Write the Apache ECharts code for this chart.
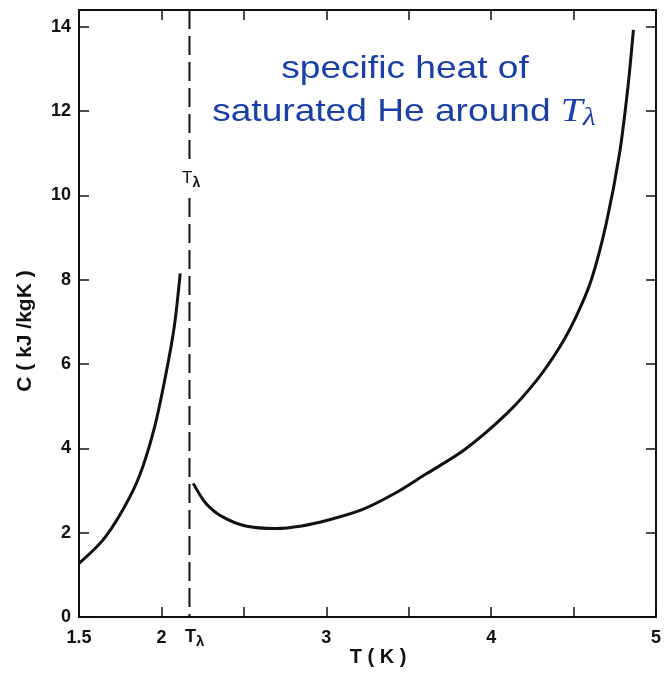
<!DOCTYPE html>
<html>
<head>
<meta charset="utf-8">
<script src="https://cdn.jsdelivr.net/npm/echarts@6/dist/echarts.min.js"></script>
<style>
html,body{margin:0;padding:0;background:#fff;}
#chart{width:664px;height:673px;}
</style>
</head>
<body>
<div id="chart"></div>
<script>
// Data
const leftT  = [1.5, 1.646, 1.767, 1.867, 1.958, 2.028, 2.078, 2.114];
const leftC  = [1.27, 1.83, 2.55, 3.35, 4.50, 5.78, 6.89, 8.15];
const rightT = [2.193, 2.269, 2.369, 2.51, 2.69, 2.851, 3.012, 3.213, 3.414, 3.604, 3.836, 4.096, 4.277, 4.417, 4.518, 4.608, 4.699, 4.779, 4.83, 4.863];
const rightC = [3.17, 2.70, 2.38, 2.16, 2.10, 2.16, 2.30, 2.54, 2.93, 3.39, 3.96, 4.83, 5.62, 6.41, 7.15, 8.0, 9.35, 11.0, 12.58, 13.93];
const lambdaT = 2.17;
const lambdaGap = [9.94, 10.75];   // C-range where the dashed line is interrupted by its label
const xTickLabels = {1.5: '1.5', 2: '2', 3: '3', 4: '4', 5: '5'};
const yTickLabels = [0, 2, 4, 6, 8, 10, 12, 14];
const xRange = [1.5, 5];
const yRange = [0, 14.4];

const ink = '#111';
const blue = '#1a3fa8';

const chart = echarts.init(document.getElementById('chart'), null, {renderer: 'canvas'});

const baseAxis = {
  axisLine: {show: true, onZero: false, lineStyle: {color: ink, width: 2}},
  axisTick: {show: true, inside: true, length: 10, lineStyle: {color: ink, width: 1.5}},
  splitLine: {show: false}
};

const lblFont = {fontFamily: 'Liberation Sans', fontSize: 18, color: ink, fontWeight: 'bold'};

const curveStyle = {type: 'line', smooth: 0.3, showSymbol: false,
  lineStyle: {color: ink, width: 3}};

const option = {
  animation: false,
  backgroundColor: '#fff',
  grid: {left: 79, right: 5, top: 10, bottom: 56, containLabel: false},
  xAxis: [
    Object.assign({}, baseAxis, {
      type: 'value', min: xRange[0], max: xRange[1], interval: 0.5, position: 'bottom',
      axisLabel: Object.assign({}, lblFont, {margin: 12, showMinLabel: true, showMaxLabel: true,
        formatter: v => xTickLabels[v] !== undefined ? xTickLabels[v] : ''})
    }),
    Object.assign({}, baseAxis, {
      type: 'value', min: xRange[0], max: xRange[1], interval: 0.5, position: 'top',
      axisLabel: {show: false}
    })
  ],
  yAxis: [
    Object.assign({}, baseAxis, {
      type: 'value', min: yRange[0], max: yRange[1], interval: 2, position: 'left',
      axisLabel: Object.assign({}, lblFont, {margin: 8,
        formatter: v => yTickLabels.indexOf(v) >= 0 ? String(v) : ''})
    }),
    Object.assign({}, baseAxis, {
      type: 'value', min: yRange[0], max: yRange[1], interval: 2, position: 'right',
      axisLabel: {show: false}
    })
  ],
  series: [
    Object.assign({}, curveStyle, {data: leftT.map((t, i) => [t, leftC[i]])}),
    Object.assign({}, curveStyle, {data: rightT.map((t, i) => [t, rightC[i]])}),
    {
      type: 'line', showSymbol: false,
      lineStyle: {color: ink, width: 2, type: [19, 7]},
      data: [[lambdaT, yRange[1]], [lambdaT, lambdaGap[1]]]
    },
    {
      type: 'line', showSymbol: false,
      lineStyle: {color: ink, width: 2, type: [19, 7]},
      data: [[lambdaT, lambdaGap[0]], [lambdaT, yRange[0]]]
    }
  ],
  graphic: [
    // T_lambda label on dashed line
    {type: 'text', left: 182, top: 170, style: {
      text: '{t|T}{s|λ}',
      rich: {
        t: {fontFamily: 'Liberation Sans', fontSize: 17, fill: ink},
        s: {fontFamily: 'Liberation Sans', fontSize: 14, fill: ink, fontWeight: 'bold', padding: [10, 0, 0, 0]}
      }
    }},
    // T_lambda tick label on x axis
    {type: 'text', left: 185, top: 628, style: {
      text: '{t|T}{s|λ}',
      rich: {
        t: {fontFamily: 'Liberation Sans', fontSize: 18, fill: ink, fontWeight: 'bold'},
        s: {fontFamily: 'Liberation Sans', fontSize: 15, fill: ink, fontWeight: 'bold', padding: [10, 0, 0, 0]}
      }
    }},
    // x axis name
    {type: 'text', x: 378, y: 657, style: {
      text: 'T ( K )', fontFamily: 'Liberation Sans', fontSize: 20, fontWeight: 'bold', fill: ink,
      align: 'center', verticalAlign: 'middle'
    }},
    // y axis name
    {type: 'text', x: 25, y: 331, rotation: Math.PI / 2, style: {
      text: 'C ( kJ /kgK )', fontFamily: 'Liberation Sans', fontSize: 21, fontWeight: 'bold', fill: ink,
      align: 'center', verticalAlign: 'middle'
    }},
    // annotation
    {type: 'text', x: 405, y: 85, scaleX: 1.16, style: {
      text: 'specific heat of', fontFamily: 'Liberation Sans', fontSize: 32, fill: blue,
      align: 'center', verticalAlign: 'bottom'
    }},
    {type: 'text', x: 404, y: 131, scaleX: 1.16, style: {
      text: '{a|saturated He around }{t|T}{s|λ}',
      align: 'center', verticalAlign: 'bottom',
      rich: {
        a: {fontFamily: 'Liberation Sans', fontSize: 32, fill: blue},
        t: {fontFamily: 'Liberation Serif', fontStyle: 'italic', fontSize: 34, fill: blue},
        s: {fontFamily: 'Liberation Serif', fontStyle: 'italic', fontSize: 26, fill: blue, padding: [12, 0, 0, 0]}
      }
    }}
  ]
};
chart.setOption(option);
</script>
</body>
</html>
